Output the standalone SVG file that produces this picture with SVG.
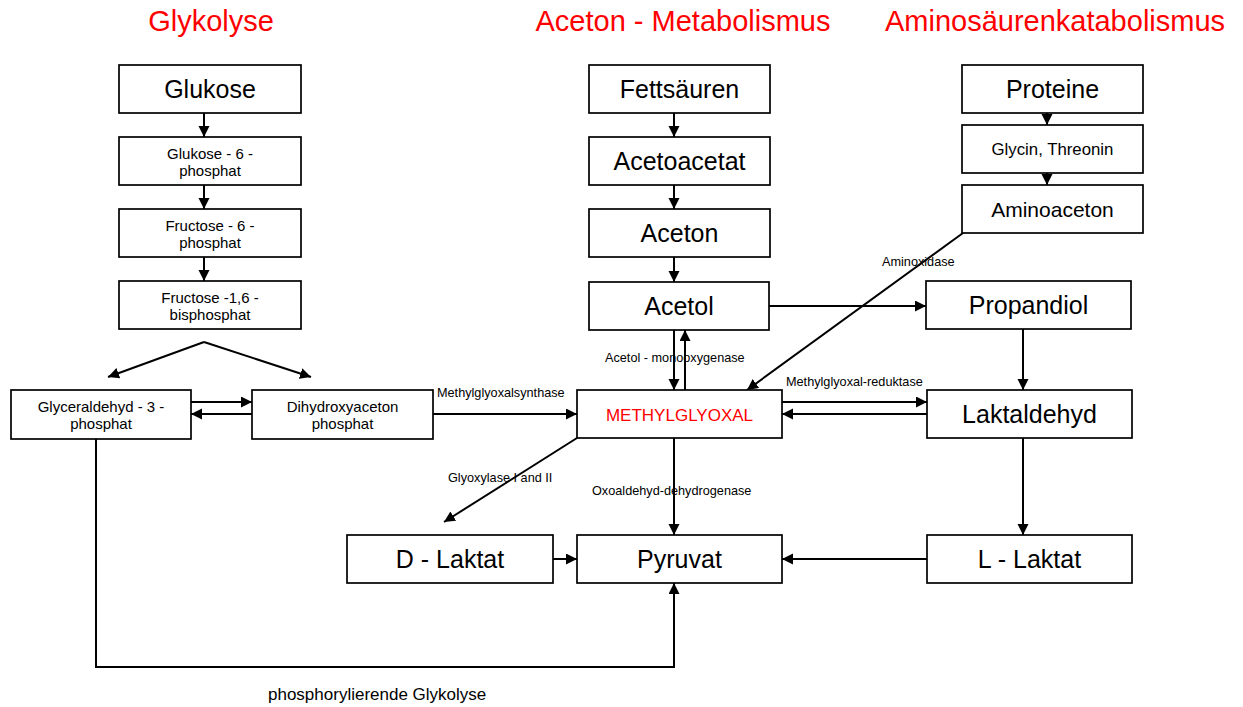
<svg xmlns="http://www.w3.org/2000/svg" width="1243" height="707" viewBox="0 0 1243 707">
<defs>
<marker id="ah" markerUnits="userSpaceOnUse" markerWidth="12" markerHeight="12" refX="11" refY="5.5" orient="auto">
<path d="M0,0 L11,5.5 L0,11 z" fill="#000"/>
</marker>
<style>
.box{fill:#fff;stroke:#000;stroke-width:1.7}
.t{font-family:"Liberation Sans",Arial,sans-serif;fill:#000;text-anchor:middle}
.big{font-size:25px}
.sm{font-size:15px}
.lbl{font-family:"Liberation Sans",Arial,sans-serif;font-size:12.7px;fill:#000}
.title{font-family:"Liberation Sans",Arial,sans-serif;font-size:29px;fill:#ff0000;text-anchor:middle}
.c{fill:none;stroke:#000;stroke-width:2}
.c.a{marker-end:url(#ah)}
</style>
</defs>
<rect width="1243" height="707" fill="#fff"/>

<text class="title" x="211" y="31">Glykolyse</text>
<text class="title" x="683" y="31">Aceton - Metabolismus</text>
<text class="title" x="1055" y="31">Aminosäurenkatabolismus</text>

<g id="connectors">
<line class="c a" x1="204" y1="113" x2="204" y2="137"/>
<line class="c a" x1="204" y1="185" x2="204" y2="209"/>
<line class="c a" x1="204" y1="257" x2="204" y2="281"/>
<line class="c a" x1="204" y1="342" x2="108" y2="377"/>
<line class="c a" x1="204" y1="342" x2="311" y2="377"/>
<line class="c a" x1="191" y1="402" x2="252" y2="402"/>
<line class="c a" x1="252" y1="414" x2="191" y2="414"/>
<line class="c a" x1="433" y1="414" x2="577" y2="414"/>
<line class="c a" x1="674" y1="113" x2="674" y2="137"/>
<line class="c a" x1="674" y1="185" x2="674" y2="209"/>
<line class="c a" x1="674" y1="257" x2="674" y2="282"/>
<line class="c a" x1="674" y1="330" x2="674" y2="390"/>
<line class="c a" x1="685" y1="390" x2="685" y2="330"/>
<line class="c a" x1="769" y1="306" x2="926" y2="306"/>
<line class="c a" x1="963" y1="233" x2="747" y2="390"/>
<line class="c a" x1="782" y1="402" x2="927" y2="402"/>
<line class="c a" x1="927" y1="414" x2="782" y2="414"/>
<line class="c a" x1="1023" y1="329" x2="1023" y2="390"/>
<line class="c a" x1="1023" y1="438" x2="1023" y2="535"/>
<line class="c a" x1="927" y1="559" x2="782" y2="559"/>
<line class="c a" x1="553" y1="559" x2="577" y2="559"/>
<line class="c a" x1="674" y1="438" x2="674" y2="535"/>
<line class="c a" x1="577" y1="438" x2="444" y2="522"/>
<polyline class="c a" points="96,439 96,667 674,667 674,583"/>
<line class="c a" x1="1047" y1="113" x2="1047" y2="125"/>
<line class="c a" x1="1047" y1="173" x2="1047" y2="185"/>
</g>

<g id="n-glukose"><rect class="box" x="119" y="65" width="182" height="48"/><text class="t big" x="210" y="98">Glukose</text></g>
<g id="n-g6p"><rect class="box" x="119" y="137" width="182" height="48"/><text class="t sm" x="210" y="158.5">Glukose - 6 -</text><text class="t sm" x="210" y="175.5">phosphat</text></g>
<g id="n-f6p"><rect class="box" x="119" y="209" width="182" height="48"/><text class="t sm" x="210" y="230.5">Fructose - 6 -</text><text class="t sm" x="210" y="247.5">phosphat</text></g>
<g id="n-f16bp"><rect class="box" x="119" y="281" width="182" height="48"/><text class="t sm" x="210" y="302.5">Fructose -1,6 -</text><text class="t sm" x="210" y="319.5">bisphosphat</text></g>
<g id="n-gap"><rect class="box" x="11" y="390" width="180" height="49"/><text class="t sm" x="101" y="411.5">Glyceraldehyd - 3 -</text><text class="t sm" x="101" y="428.5">phosphat</text></g>
<g id="n-dhap"><rect class="box" x="252" y="390" width="181" height="49"/><text class="t sm" x="342.5" y="411.5">Dihydroxyaceton</text><text class="t sm" x="342.5" y="428.5">phosphat</text></g>

<g id="n-fettsaeuren"><rect class="box" x="589" y="65" width="181" height="48"/><text class="t big" x="679.5" y="98">Fettsäuren</text></g>
<g id="n-acetoacetat"><rect class="box" x="589" y="137" width="181" height="48"/><text class="t big" x="679.5" y="170">Acetoacetat</text></g>
<g id="n-aceton"><rect class="box" x="589" y="209" width="181" height="48"/><text class="t big" x="679.5" y="242">Aceton</text></g>
<g id="n-acetol"><rect class="box" x="589" y="282" width="180" height="48"/><text class="t big" x="679" y="315">Acetol</text></g>
<g id="n-methylglyoxal"><rect class="box" x="577" y="390" width="205" height="48"/><text class="t" x="679.5" y="420.5" style="font-size:17px;fill:#ff0000">METHYLGLYOXAL</text></g>

<g id="n-proteine"><rect class="box" x="962" y="65" width="181" height="48"/><text class="t big" x="1052.5" y="98">Proteine</text></g>
<g id="n-glycin"><rect class="box" x="962" y="125" width="181" height="48"/><text class="t" x="1052.5" y="155" style="font-size:16.8px">Glycin, Threonin</text></g>
<g id="n-aminoaceton"><rect class="box" x="962" y="185" width="181" height="48"/><text class="t" x="1052.5" y="216.5" style="font-size:21px">Aminoaceton</text></g>
<g id="n-propandiol"><rect class="box" x="926" y="281" width="205" height="48"/><text class="t big" x="1028.5" y="314">Propandiol</text></g>
<g id="n-laktaldehyd"><rect class="box" x="927" y="390" width="205" height="48"/><text class="t big" x="1029.5" y="423">Laktaldehyd</text></g>
<g id="n-llaktat"><rect class="box" x="927" y="535" width="205" height="48"/><text class="t big" x="1029.5" y="568">L - Laktat</text></g>
<g id="n-dlaktat"><rect class="box" x="347" y="535" width="206" height="48"/><text class="t big" x="450" y="568">D - Laktat</text></g>
<g id="n-pyruvat"><rect class="box" x="577" y="535" width="205" height="48"/><text class="t big" x="679.5" y="568">Pyruvat</text></g>

<g id="labels">
<text class="lbl" x="437" y="397">Methylglyoxalsynthase</text>
<text class="lbl" x="605" y="362">Acetol - monooxygenase</text>
<text class="lbl" x="882" y="266">Aminoxidase</text>
<text class="lbl" x="786" y="386">Methylglyoxal-reduktase</text>
<text class="lbl" x="448" y="482">Glyoxylase I and II</text>
<text class="lbl" x="592" y="495">Oxoaldehyd-dehydrogenase</text>
<text class="lbl" x="268" y="700" style="font-size:17px">phosphorylierende Glykolyse</text>
</g>
</svg>
